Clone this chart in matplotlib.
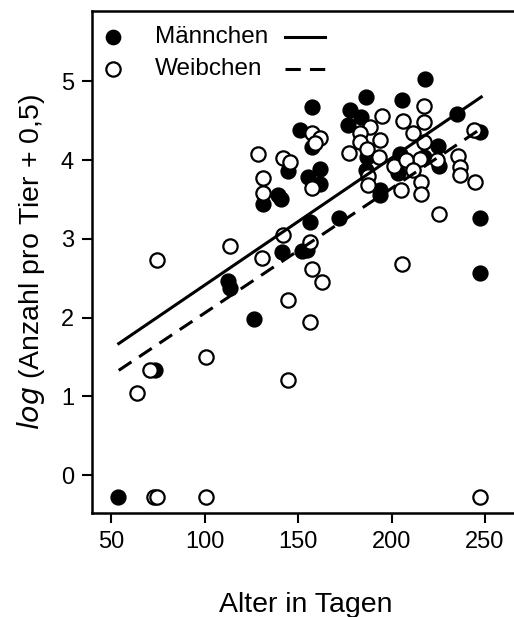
#!/usr/bin/python

import numpy as np
import matplotlib
matplotlib.use('Agg')
from matplotlib import pyplot as plt

# age in days and log(count per animal + 0.5), males
male_age = [53.4, 73.4, 112.6, 113.5, 126.5, 131.4, 139.4, 141.0, 141.2, 144.4,
            151.0, 151.9, 154.5, 155.5, 156.4, 157.3, 157.3, 161.7, 161.7, 171.7,
            176.9, 177.8, 183.4, 186.1, 186.3, 186.7, 193.8, 193.9, 203.7, 204.5,
            205.5, 217.1, 218.0, 225.1, 225.6, 235.0, 247.4, 247.4, 247.4]
male_val = [-0.28, 1.33, 2.47, 2.37, 1.98, 3.44, 3.55, 3.50, 2.83, 3.86,
            4.38, 2.84, 2.86, 3.79, 3.21, 4.67, 4.17, 3.89, 3.70, 3.26,
            4.44, 4.63, 4.54, 4.80, 3.87, 4.04, 3.62, 3.55, 3.83, 4.08,
            4.76, 4.04, 5.03, 4.18, 3.93, 4.59, 4.36, 3.27, 2.57]

# females
female_age = [72.9, 74.6, 100.5, 247.4, 63.6, 70.7, 100.5, 74.6, 113.5, 130.5,
              144.4, 144.4, 157.3, 162.6, 156.4, 156.4, 142.0, 128.4, 142.0, 145.5,
              131.4, 131.4, 157.6, 157.6, 161.7, 159.0, 194.8, 188.5, 183.1, 193.8,
              183.1, 186.7, 177.3, 193.5, 187.6, 187.6, 201.4, 205.0, 205.5, 217.3,
              217.3, 206.0, 211.7, 244.2, 217.1, 215.3, 224.2, 235.8, 236.7, 236.5,
              244.6, 207.6, 211.7, 216.0, 216.0, 225.4]
female_val = [-0.28, -0.28, -0.28, -0.28, 1.04, 1.33, 1.50, 2.73, 2.91, 2.76,
              2.22, 1.21, 2.62, 2.45, 1.95, 2.96, 3.05, 4.08, 4.02, 3.98,
              3.77, 3.58, 3.64, 4.34, 4.28, 4.21, 4.56, 4.42, 4.34, 4.25,
              4.23, 4.14, 4.09, 4.04, 3.80, 3.68, 3.92, 3.62, 2.68, 4.69,
              4.48, 4.50, 4.34, 4.38, 4.23, 4.01, 4.00, 4.05, 3.91, 3.81,
              3.72, 4.00, 3.87, 3.72, 3.57, 3.31]

# regression lines, end points
fit_age = [54, 248]
fit_male = [1.67, 4.80]
fit_female = [1.33, 4.40]

x_ticks = [50, 100, 150, 200, 250]
y_ticks = [0, 1, 2, 3, 4, 5]

def main():
  plt.rcParams['font.family'] = ['Liberation Sans', 'DejaVu Sans']
  fig = plt.figure(figsize=(5.14, 6.17), dpi=100)
  ax = fig.add_axes([0.179, 0.1686, 0.83, 0.8134])

  ms = 10.3
  dash = (0, (5, 3))

  ax.plot(male_age, male_val, 'o', color='black', markersize=ms,
      markeredgewidth=1.4, zorder=2)
  ax.plot(female_age, female_val, 'o', markerfacecolor='white',
      markeredgecolor='black', markersize=ms, markeredgewidth=1.6, zorder=3)

  ax.plot(fit_age, fit_male, '-', color='black', lw=2.2, zorder=4)
  ax.plot(fit_age, fit_female, color='black', lw=2.2, linestyle=dash,
      zorder=4)

  # legend: marker, label, line
  ax.plot([0.049], [0.948], 'o', color='black', markersize=ms,
      transform=ax.transAxes)
  ax.plot([0.049], [0.884], 'o', markerfacecolor='white',
      markeredgecolor='black', markersize=ms, markeredgewidth=1.6,
      transform=ax.transAxes)
  ax.text(0.148, 0.948, 'Männchen', fontsize=17.5, va='center',
      transform=ax.transAxes)
  ax.text(0.148, 0.884, 'Weibchen', fontsize=17.5, va='center',
      transform=ax.transAxes)
  ax.plot([0.452, 0.546], [0.948, 0.948], '-', color='black', lw=2.2,
      transform=ax.transAxes)
  ax.plot([0.452, 0.546], [0.884, 0.884], color='black', lw=2.2,
      linestyle=dash, transform=ax.transAxes)

  ax.set_xlim(39.7, 268)
  ax.set_ylim(-0.48, 5.89)
  ax.set_xticks(x_ticks)
  ax.set_yticks(y_ticks)
  ax.tick_params(direction='out', length=7, width=1.5, labelsize=17, pad=6)
  for side in ['left', 'bottom', 'top']:
    ax.spines[side].set_linewidth(1.8)
  ax.spines['right'].set_visible(False)

  ax.set_xlabel('Alter in Tagen', fontsize=20.5, labelpad=28)
  ax.set_ylabel('$\\it{log}$ (Anzahl pro Tier + 0,5)', fontsize=20.5, labelpad=10)

  plt.savefig('out.png', dpi=100)

if __name__ == '__main__':
  main()
